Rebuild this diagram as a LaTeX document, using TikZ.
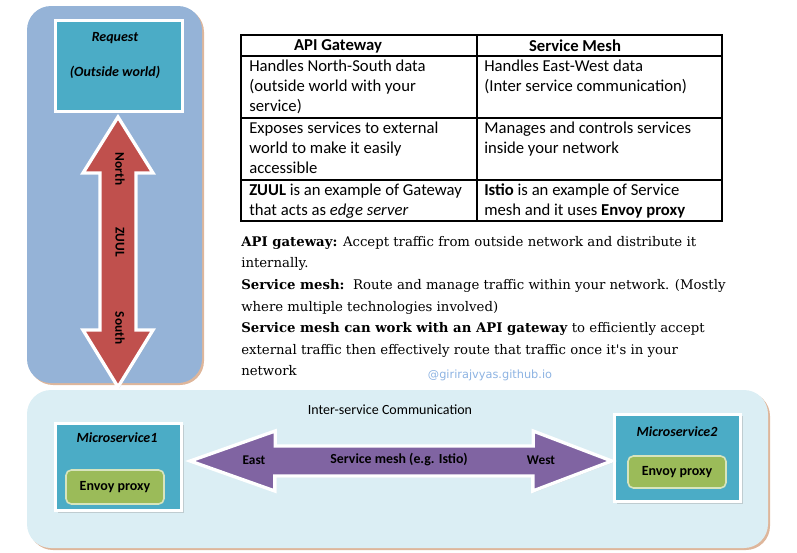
\documentclass[tikz,border=0pt]{standalone}
\usepackage{fontspec}
\setmainfont{Carlito}
\newfontfamily\cambria{DejaVu Serif}
\newfontfamily\markfont{DejaVu Sans}
\usetikzlibrary{positioning,shadows,calc}
\definecolor{panelblue}{RGB}{149,179,215}
\definecolor{boxteal}{RGB}{75,172,198}
\definecolor{darkred}{RGB}{192,80,77}
\definecolor{meshbg}{RGB}{219,238,244}
\definecolor{meshpurple}{RGB}{128,100,162}
\definecolor{envoygreen}{RGB}{155,187,89}
\definecolor{envoyedge}{RGB}{215,228,189}
\definecolor{watermark}{RGB}{141,179,226}
\definecolor{panelshadow}{RGB}{214,164,130}

\begin{document}
\begin{tikzpicture}[x=0.75pt,y=-0.75pt,
        panel/.style={rounded corners=18pt,
          drop shadow={shadow xshift=1.5pt,shadow yshift=-1.5pt,fill=panelshadow,opacity=.8}},
        tealbox/.style={fill=boxteal, draw=white, line width=2.5pt,
          drop shadow={shadow xshift=1.5pt,shadow yshift=-1.5pt,opacity=.3}},
        envoy/.style={fill=envoygreen, draw=envoyedge, line width=1.2pt, rounded corners=4pt,
          minimum width=73.5pt, font=\bfseries\fontsize{10.5}{12}\selectfont},
        bigarrow/.style={draw=white, line width=2.5pt,
          drop shadow={shadow xshift=1pt,shadow yshift=-1pt,opacity=.25}},
        boxtitle/.style={font=\bfseries\itshape\fontsize{10.5}{12}\selectfont},
        tablerule/.style={line width=0.8pt},
        cell/.style={anchor=north west, inner sep=0pt, align=left, font=\fontsize{12.5}{15}\selectfont},
        head/.style={font=\bfseries\fontsize{12.5}{15}\selectfont},
        arrowtext/.style={font=\bfseries\fontsize{10}{12}\selectfont}]
        \useasboundingbox (0,0) rectangle (797,553);

        \node[panel, fill=panelblue, minimum width=131.25pt, minimum height=282.75pt] (outside) at (114.5,194.5) {};
        \node[tealbox, minimum width=95pt, minimum height=68pt] (request) at (119,66) {};
        \node[boxtitle] (reqtitle) at (115,38) {Request};
        \node[boxtitle] (reqsub) at (115,72) {(Outside world)};

        \coordinate (ntip) at ($(request.south)+(-1,4)$);
        \coordinate (stip) at (118,387);
        \draw[bigarrow, fill=darkred] (ntip) -- ++(35,56) -- ++(-17,0) -- ++(0,157) -- ++(17,0) -- (stip)
          -- ++(-35,-57) -- ++(17,0) -- ++(0,-157) -- ++(-17,0) -- cycle;
        \node[arrowtext, rotate=-90] (north) at (120,169) {North};
        \node[arrowtext, rotate=-90] (zuul) at (120,242) {ZUUL};
        \node[arrowtext, rotate=-90] (south) at (120,328) {South};

        \draw[tablerule] (241,35) rectangle (722,221);
        \draw[tablerule] (477,35) -- (477,221);
        \foreach \y in {56,118,180}
          \draw[tablerule] (241,\y) -- (722,\y);
        \node[head] (hgw) at (338,46) {API Gateway};
        \node[head] (hsm) at (575,46) {Service Mesh};
        \node[cell] (gw1) at (249,60) {Handles North-South data\\(outside world with your\\service)};
        \node[cell] (sm1) at (484,60) {Handles East-West data\\(Inter service communication)};
        \node[cell] (gw2) at (249,122) {Exposes services to external\\world to make it easily\\accessible};
        \node[cell] (sm2) at (484,122) {Manages and controls services\\inside your network};
        \node[cell] (gw3) at (249,184) {\textbf{ZUUL} is an example of Gateway\\that acts as \textit{edge server}};
        \node[cell] (sm3) at (484,184) {\textbf{Istio} is an example of Service\\mesh and it uses \textbf{Envoy proxy}};

        \node[anchor=north west, inner sep=0pt, align=left, font=\cambria\fontsize{9.95}{16.2}\selectfont] (notes) at (241,236)
          {\textbf{API gateway:} Accept traffic from outside network and distribute it\\
           internally.\\
           \textbf{Service mesh:}\ \ Route and manage traffic within your network. (Mostly\\
           where multiple technologies involved)\\
           \textbf{Service mesh can work with an API gateway} to efficiently accept\\
           external traffic then effectively route that traffic once it's in your\\
           network};
        \node[font=\markfont\fontsize{8.5}{10}\selectfont, text=watermark] (credit) at (490,375) {@girirajvyas.github.io};

        \node[panel, fill=meshbg, minimum width=555.75pt, minimum height=118.5pt] (inside) at (397.5,469) {};
        \node[font=\fontsize{10.5}{12}\selectfont] (ictitle) at (390,410) {Inter-service Communication};

        \node[tealbox, minimum width=94.5pt, minimum height=65.5pt] (ms1) at (118.5,467) {};
        \node[boxtitle] (ms1title) at (117,438) {Microservice1};
        \node[envoy, minimum height=25.5pt] (envoy1) at (115,487) {Envoy proxy};
        \node[tealbox, minimum width=94.5pt, minimum height=65.5pt] (ms2) at (677.5,458) {};
        \node[boxtitle] (ms2title) at (677,432) {Microservice2};
        \node[envoy, minimum height=24pt] (envoy2) at (677,472) {Envoy proxy};

        \coordinate (etip) at ($(ms1.east)+(7,-6)$);
        \coordinate (wtip) at ($(ms2.west)+(-1,3)$);
        \draw[bigarrow, fill=meshpurple] (etip) -- ++(85,-30) -- ++(0,15) -- ++(258,0) -- ++(0,-15) -- (wtip)
          -- ++(-79,30) -- ++(0,-15) -- ++(-258,0) -- ++(0,15) -- cycle;
        \node[arrowtext] (east) at (254,460) {East};
        \node[arrowtext, font=\bfseries\fontsize{10.4}{12}\selectfont] (meshlabel) at (399,460) {Service mesh (e.g. Istio)};
        \node[arrowtext] (west) at (541,460) {West};
    \end{tikzpicture}
\end{document}
